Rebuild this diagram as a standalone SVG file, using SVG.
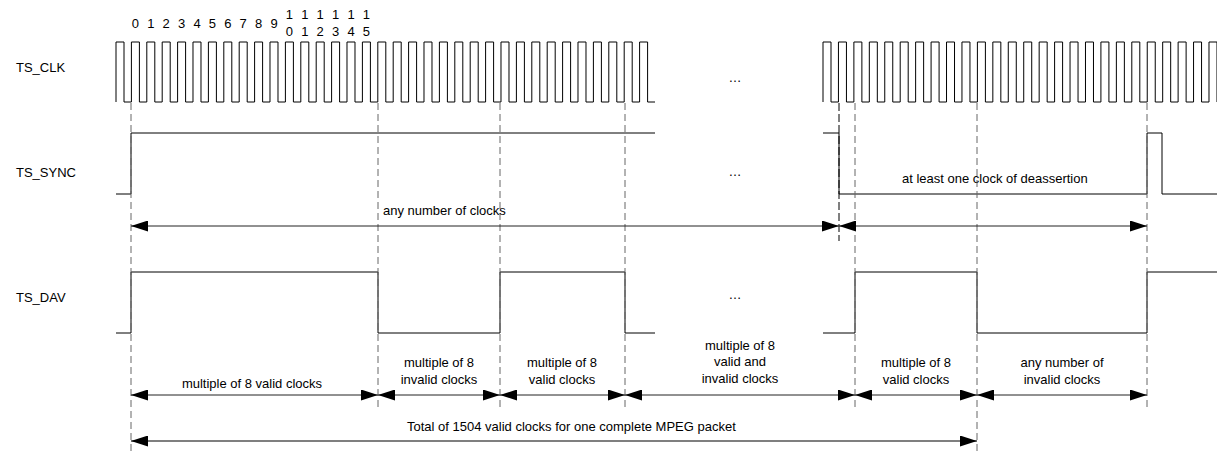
<svg xmlns="http://www.w3.org/2000/svg" width="1217" height="454" viewBox="0 0 1217 454">
<style>
text{font-family:"Liberation Sans",Arial,sans-serif;font-size:13px;fill:#000}
.m{text-anchor:middle}
.w{fill:none;stroke:#000;stroke-width:1}
.d{fill:none;stroke:#666;stroke-width:1;stroke-dasharray:7,4}
.a{fill:none;stroke:#222;stroke-width:1;marker-start:url(#ah);marker-end:url(#ah)}
</style>
<defs>
<marker id="ah" viewBox="0 0 17 11" refX="17" refY="5.5" markerWidth="17" markerHeight="11" markerUnits="userSpaceOnUse" orient="auto-start-reverse">
<path d="M0,0 L17,5.5 L0,11 z" fill="#000"/>
</marker>
</defs>
<rect width="1217" height="454" fill="#fff"/>

<g id="clk-numbers">
<text class="m" x="135.4" y="28">0</text>
<text class="m" x="150.8" y="28">1</text>
<text class="m" x="166.2" y="28">2</text>
<text class="m" x="181.6" y="28">3</text>
<text class="m" x="197" y="28">4</text>
<text class="m" x="212.4" y="28">5</text>
<text class="m" x="227.8" y="28">6</text>
<text class="m" x="243.2" y="28">7</text>
<text class="m" x="258.6" y="28">8</text>
<text class="m" x="274" y="28">9</text>
<text class="m" x="289.4" y="19">1</text><text class="m" x="289.4" y="36">0</text>
<text class="m" x="304.8" y="19">1</text><text class="m" x="304.8" y="36">1</text>
<text class="m" x="320.2" y="19">1</text><text class="m" x="320.2" y="36">2</text>
<text class="m" x="335.6" y="19">1</text><text class="m" x="335.6" y="36">3</text>
<text class="m" x="351" y="19">1</text><text class="m" x="351" y="36">4</text>
<text class="m" x="366.4" y="19">1</text><text class="m" x="366.4" y="36">5</text>
</g>

<g id="ts-clk">
<text x="16" y="72">TS_CLK</text>
<path class="w" d="M116,102 v-60h8v60h7.4 v-60h8v60h7.4 v-60h8v60h7.4 v-60h8v60h7.4 v-60h8v60h7.4 v-60h8v60h7.4 v-60h8v60h7.4 v-60h8v60h7.4 v-60h8v60h7.4 v-60h8v60h7.4 v-60h8v60h7.4 v-60h8v60h7.4 v-60h8v60h7.4 v-60h8v60h7.4 v-60h8v60h7.4 v-60h8v60h7.4 v-60h8v60h7.4 v-60h8v60h7.4 v-60h8v60h7.4 v-60h8v60h7.4 v-60h8v60h7.4 v-60h8v60h7.4 v-60h8v60h7.4 v-60h8v60h7.4 v-60h8v60h7.4 v-60h8v60h7.4 v-60h8v60h7.4 v-60h8v60h7.4 v-60h8v60h7.4 v-60h8v60h7.4 v-60h8v60h7.4 v-60h8v60h7.4 v-60h8v60h7.4 v-60h8v60h7.4 v-60h8v60h7.4"/>
<path class="w" d="M823,102 v-60h8v60h7.44 v-60h8v60h7.44 v-60h8v60h7.44 v-60h8v60h7.44 v-60h8v60h7.44 v-60h8v60h7.44 v-60h8v60h7.44 v-60h8v60h7.44 v-60h8v60h7.44 v-60h8v60h7.44 v-60h8v60h7.44 v-60h8v60h7.44 v-60h8v60h7.44 v-60h8v60h7.44 v-60h8v60h7.44 v-60h8v60h7.44 v-60h8v60h7.44 v-60h8v60h7.44 v-60h8v60h7.44 v-60h8v60h7.44 v-60h8v60h7.44 v-60h8v60h7.44 v-60h8v60h7.44 v-60h8v60h7.44 v-60h8v60h7.44 v-60h8v60h7.44"/>
<text class="m" x="735" y="82">…</text>
</g>

<g id="ts-sync">
<text x="16" y="177">TS_SYNC</text>
<path class="w" d="M116,194 H131 V133 H655"/>
<path class="w" d="M823,133 H839 V194 H1147 V133 H1162 V194 H1217"/>
<text class="m" x="735" y="176">…</text>
<text x="902" y="183">at least one clock of deassertion</text>
</g>

<g id="ts-dav">
<text x="16" y="302">TS_DAV</text>
<path class="w" d="M116,333 H131 V272 H378 V333 H500 V272 H625 V333 H655"/>
<path class="w" d="M823,333 H855 V272 H977 V333 H1147 V272 H1217"/>
<text class="m" x="735" y="299">…</text>
</g>

<g id="connectors">
<line class="d" x1="131" y1="103" x2="131" y2="455"/>
<line class="d" x1="378" y1="103" x2="378" y2="410"/>
<line class="d" x1="500" y1="103" x2="500" y2="410"/>
<line class="d" x1="625" y1="103" x2="625" y2="410"/>
<line class="d" x1="839" y1="103" x2="839" y2="241" style="stroke:#000;stroke-dasharray:8,3"/>
<line class="d" x1="855" y1="103" x2="855" y2="410"/>
<line class="d" x1="977" y1="103" x2="977" y2="455"/>
<line class="d" x1="1147" y1="103" x2="1147" y2="410"/>

<line class="a" x1="131" y1="226" x2="839" y2="226"/>
<line class="a" x1="839" y1="226" x2="1147" y2="226"/>

<line class="a" x1="131" y1="395" x2="378" y2="395"/>
<line class="a" x1="378" y1="395" x2="500" y2="395"/>
<line class="a" x1="500" y1="395" x2="625" y2="395"/>
<line class="a" x1="625" y1="395" x2="855" y2="395"/>
<line class="a" x1="855" y1="395" x2="977" y2="395"/>
<line class="a" x1="977" y1="395" x2="1147" y2="395"/>

<line class="a" x1="131" y1="441" x2="977" y2="441" style="stroke:#555;stroke-width:1.5"/>
</g>

<g id="labels">
<text x="383" y="215">any number of clocks</text>
<text class="m" x="252" y="388">multiple of 8 valid clocks</text>
<text class="m" x="439" y="367">multiple of 8</text>
<text class="m" x="439" y="384">invalid clocks</text>
<text class="m" x="562" y="367">multiple of 8</text>
<text class="m" x="562" y="384">valid clocks</text>
<text class="m" x="740" y="350">multiple of 8</text>
<text class="m" x="740" y="366">valid and</text>
<text class="m" x="740" y="383">invalid clocks</text>
<text class="m" x="916" y="367">multiple of 8</text>
<text class="m" x="916" y="384">valid clocks</text>
<text class="m" x="1062" y="367">any number of</text>
<text class="m" x="1062" y="384">invalid clocks</text>
<text x="407" y="431">Total of 1504 valid clocks for one complete MPEG packet</text>
</g>
</svg>
